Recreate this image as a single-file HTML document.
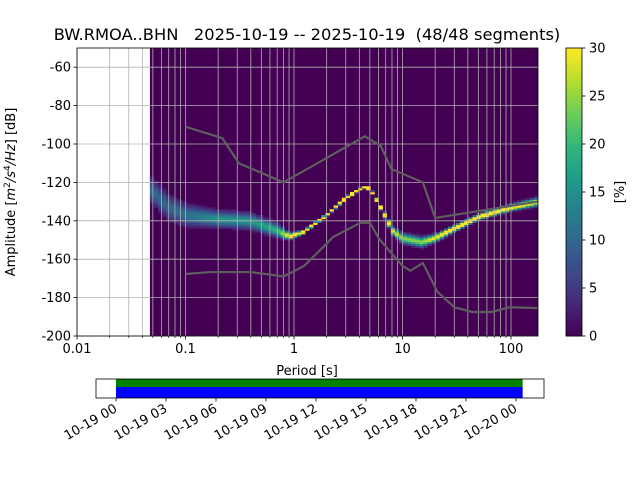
<!DOCTYPE html>
<html><head><meta charset="utf-8"><style>
body{margin:0;background:#fff;font-family:"DejaVu Sans","Liberation Sans",sans-serif}
svg text{font-family:"DejaVu Sans","Liberation Sans",sans-serif;fill:#000}
</style></head><body>
<svg id="c" width="640" height="480" viewBox="0 0 640 480" xmlns="http://www.w3.org/2000/svg">
<defs><clipPath id="pc"><rect x="77" y="48" width="461" height="288"/></clipPath></defs>
<text x="307" y="40" font-size="16.3" text-anchor="middle" style="white-space:pre" xml:space="preserve">BW.RMOA..BHN   2025-10-19 -- 2025-10-19  (48/48 segments)</text>
<g id="plot"></g>
<text transform="translate(15,192) rotate(-90)" font-size="13" text-anchor="middle">Amplitude [<tspan font-style="italic">m</tspan><tspan font-size="9" dy="-5">2</tspan><tspan dy="5" font-style="italic">/s</tspan><tspan font-size="9" dy="-5">4</tspan><tspan dy="5" font-style="italic">/Hz</tspan>] [dB]</text>
<text x="307" y="375" font-size="13" text-anchor="middle">Period [s]</text>
<g id="cbar"></g>
<text transform="translate(624,192) rotate(-90)" font-size="13" text-anchor="middle">[%]</text>
<g id="tl"></g>
</svg>
<script>
const yTicks=[-60,-80,-100,-120,-140,-160,-180,-200];
const xTickLabels=["0.01","0.1","1","10","100"];
const cbTicks=[0,5,10,15,20,25,30];
const modePeriods=[0.047,0.07,0.1,0.2,0.4,0.7,0.9,1.2,2,3,4.3,5,6,7,8,10,15,20,30,50,100,178];
const modeDb=[-123,-133,-137,-139,-140,-145,-148,-146,-137,-128,-122.5,-123,-131,-138,-145,-149,-151,-149,-144,-138,-133,-130];
const spreadDb=[4,4,3.5,2.5,2.5,2,1,0.4,0.35,0.35,0.35,0.35,0.5,0.8,1.2,1.6,1.6,1.2,1,0.8,1,1.3];
const nhnmP=[0.1,0.219,0.31,0.8,4.5,6.3,7.9,15.4,20,178];
const nhnmDb=[-91,-97,-110,-120,-96,-101,-113,-120,-138.5,-130];
const nlnmP=[0.1,0.17,0.4,0.8,1.24,2.3,4.1,5,6.1,10,11.8,15.4,21,30,44,66,97,178];
const nlnmDb=[-167.7,-166.7,-166.7,-169,-163.5,-148.4,-141,-141,-149.5,-163.5,-166,-162,-177,-185,-187.5,-187.5,-185,-185.5];
const timeTicks=["10-19 00","10-19 03","10-19 06","10-19 09","10-19 12","10-19 15","10-19 18","10-19 21","10-20 00"];
const tStartHour=0, tEndHour=24.4;

const NS="http://www.w3.org/2000/svg";
const L=77,R=538,T=48,B=336;
const xs=p=>L+(Math.log10(p)+2)*108.5;
const ys=d=>T+(-50-d)*(B-T)/150;
function el(tag,at,parent){const e=document.createElementNS(NS,tag);for(const k in at)e.setAttribute(k,at[k]);parent.appendChild(e);return e;}
const vir=[[68,1,84],[72,40,120],[62,74,137],[49,104,142],[38,130,142],[31,158,137],[53,183,121],[109,205,89],[180,222,44],[253,231,37]];
function viridis(t){t=Math.max(0,Math.min(1,t))*9;const i=Math.min(8,Math.floor(t)),f=t-i;const a=vir[i],b=vir[i+1];return `rgb(${a.map((v,k)=>Math.round(v+(b[k]-v)*f)).join(',')})`;}
function interp(xa,ya,x){const lx=Math.log10(x);for(let i=0;i<xa.length-1;i++){const a=Math.log10(xa[i]),b=Math.log10(xa[i+1]);if(lx<=b){const f=(lx-a)/(b-a);return ya[i]+(ya[i+1]-ya[i])*Math.max(0,f);}}return ya[ya.length-1];}
const g=document.getElementById('plot');
el('rect',{x:xs(0.047),y:T,width:R-xs(0.047),height:B-T,fill:viridis(0)},g);
const hm=el('g',{'clip-path':'url(#pc)'},g);


const step=Math.log10(2)/8;
for(let lp=Math.log10(0.047);lp<Math.log10(178);lp+=step){
  const p=Math.pow(10,lp),p2=Math.pow(10,lp+step);
  const m=interp(modePeriods,modeDb,Math.pow(10,lp+step/2)),s=interp(modePeriods,spreadDb,Math.pow(10,lp+step/2));
  const w=[];let sum=0;
  for(let d=Math.floor(m-3*s)-1;d<=Math.ceil(m+3*s)+1;d++){const v=Math.exp(-0.5*Math.pow((d+0.5-m)/s,2));w.push([d,v]);sum+=v;}
  w.forEach(([d,v])=>{const pct=v/sum*100;if(pct<2)return;
    const r=el('rect',{x:xs(p),y:ys(d+1),width:xs(p2)-xs(p)+0.3,height:ys(d)-ys(d+1)+0.3,fill:viridis(pct/30)},hm);
    
    });
}
for(let e=-2;e<=2;e++)for(let k=1;k<=9;k++){const p=k*Math.pow(10,e);if(p>178)continue;const x=xs(p);
  el('line',{x1:x,x2:x,y1:T,y2:B,stroke:'#b0b0b0','stroke-width':0.8},g);}
yTicks.forEach(d=>{const y=ys(d);el('line',{x1:L,x2:R,y1:y,y2:y,stroke:'#b0b0b0','stroke-width':0.8},g);
  el('line',{x1:L-3.5,x2:L,y1:y,y2:y,stroke:'#000','stroke-width':0.8},g);
  const t=el('text',{x:L-6,y:y+4.5,'font-size':13,'text-anchor':'end'},g);t.textContent=d;
  
  });
xTickLabels.forEach(s=>{const x=xs(parseFloat(s));el('line',{x1:x,x2:x,y1:B,y2:B+3.5,stroke:'#000','stroke-width':0.8},g);
  const t=el('text',{x:x,y:B+17,'font-size':13,'text-anchor':'middle'},g);t.textContent=s;
  
  });
for(let e=-2;e<=2;e++)for(let k=2;k<=9;k++){const p=k*Math.pow(10,e);if(p>178)continue;const x=xs(p);el('line',{x1:x,x2:x,y1:B,y2:B+2,stroke:'#000','stroke-width':0.6},g);}
function poly(P,D,name){const l=el('polyline',{points:P.map((p,i)=>xs(p)+','+ys(D[i])).join(' '),fill:'none',stroke:'#5e5e5e','stroke-width':2.2},g);
  
  }
poly(nhnmP,nhnmDb,'nhnm-line');poly(nlnmP,nlnmDb,'nlnm-line');
el('rect',{x:L,y:T,width:R-L,height:B-T,fill:'none',stroke:'#000','stroke-width':0.8},g);
const cb=document.getElementById('cbar');
for(let i=0;i<100;i++){el('rect',{x:566,y:B-(i+1)*(B-T)/100,width:16,height:(B-T)/100+0.5,fill:viridis(i/99)},cb);}
el('rect',{x:566,y:T,width:16,height:B-T,fill:'none',stroke:'#000','stroke-width':0.8},cb);
cbTicks.forEach(v=>{const y=B-v/30*(B-T);el('line',{x1:582,x2:585.5,y1:y,y2:y,stroke:'#000','stroke-width':0.8},cb);
  const t=el('text',{x:589,y:y+4.5,'font-size':13},cb);t.textContent=v;
  
  });
const tl=document.getElementById('tl');
const tx=h=>116+h*50/3;
el('rect',{x:tx(tStartHour),y:379,width:tx(tEndHour)-tx(tStartHour),height:8,fill:'#008000'},tl);
el('rect',{x:tx(tStartHour),y:387,width:tx(tEndHour)-tx(tStartHour),height:11,fill:'#0000ff'},tl);
el('rect',{x:96,y:379,width:448,height:19,fill:'none',stroke:'#000','stroke-width':0.8},tl);
timeTicks.forEach((s,i)=>{const x=tx(i*3);el('line',{x1:x,x2:x,y1:398,y2:401.5,stroke:'#000','stroke-width':0.8},tl);
  const t=el('text',{x:x+2,y:411,'font-size':13,'text-anchor':'end',transform:`rotate(-30 ${x+2} 411)`},tl);t.textContent=s;
  
  });
</script>
</body></html>
